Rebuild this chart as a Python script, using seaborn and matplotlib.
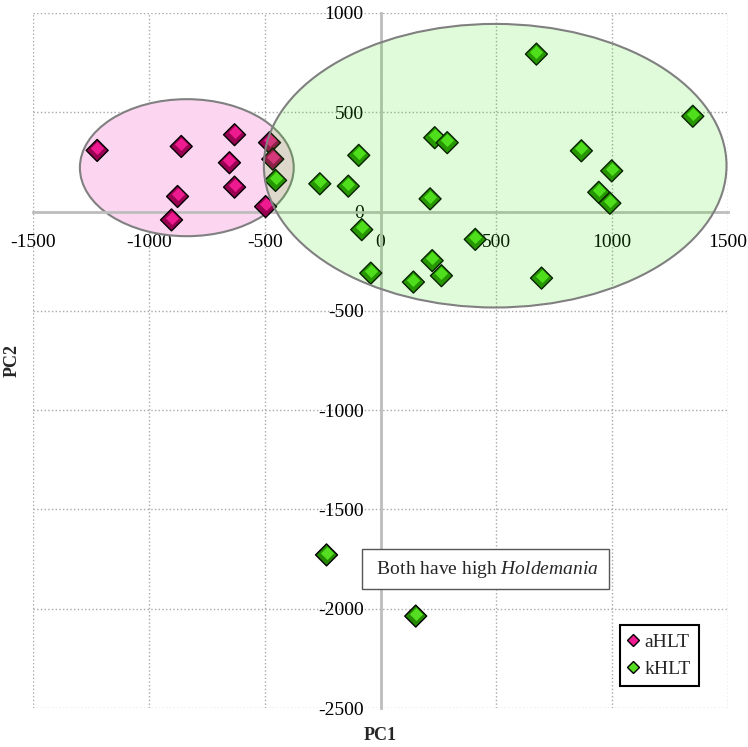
import matplotlib
matplotlib.use("Agg")
import matplotlib.pyplot as plt
from matplotlib.patches import Ellipse
from matplotlib.transforms import offset_copy
import pandas as pd
import seaborn as sns

# PCA scores
pc1_ahlt = [-1223, -860, -630, -652, -630, -876, -902, -479, -465, -496]
pc2_ahlt = [308, 328, 387, 246, 123, 76, -42, 347, 264, 25]
pc1_khlt = [-453, -262, -139, -94, 234, 288, 214, -81, 409, 223, 263,
            -42, 142, 673, 1348, 867, 998, 942, 990, 695, -233, 152]
pc2_khlt = [157, 140, 128, 283, 372, 347, 64, -91, -140, -247, -323,
            -310, -355, 793, 480, 306, 205, 97, 42, -335, -1729, -2037]
groups = ["aHLT", "kHLT"]
note = " Both have high $\\mathit{Holdemania}$ "

df = pd.DataFrame({
    "PC1": pc1_ahlt + pc1_khlt,
    "PC2": pc2_ahlt + pc2_khlt,
    "group": [groups[0]] * len(pc1_ahlt) + [groups[1]] * len(pc1_khlt),
})

sns.set_style("white")
plt.rcParams["font.family"] = ["Liberation Serif", "DejaVu Serif"]
plt.rcParams["mathtext.fontset"] = "custom"
plt.rcParams["mathtext.rm"] = "Liberation Serif"
plt.rcParams["mathtext.it"] = "Liberation Serif:italic"
plt.rcParams["axes.unicode_minus"] = False

fig = plt.figure(figsize=(7.48, 7.47), dpi=100)
ax = fig.add_axes([0.0441, 0.0522, 0.9292, 0.9304])

dark = {"aHLT": "#9a0052", "kHLT": "#248a00"}
light = {"aHLT": "#ee1a90", "kHLT": "#55dd22"}

# group ellipses
ax.add_patch(Ellipse((-836, 221), 923, 690, facecolor="#fcd5f0",
                     edgecolor="#808080", lw=1.5, zorder=1))

sns.scatterplot(data=df, x="PC1", y="PC2", hue="group", palette=dark,
                marker="D", s=125, edgecolor="black", linewidth=1.0,
                ax=ax, zorder=2, legend=False)
# lighter top half to fake the gradient fill
hl = offset_copy(ax.transData, fig=fig, x=0, y=1.7, units="points")
for g in groups:
    sub = df[df["group"] == g]
    ax.scatter(sub["PC1"], sub["PC2"], marker="D", s=45, color=light[g],
               linewidth=0, transform=hl, zorder=2.1)

ax.add_patch(Ellipse((495, 231), 1997, 1428,
                     facecolor=(50 / 255, 230 / 255, 0, 0.15),
                     edgecolor="#808080", lw=1.5, zorder=3))

ax.set_xlim(-1500, 1500)
ax.set_ylim(-2500, 1000)
ax.set_xticks(range(-1500, 1501, 500))
ax.set_yticks(range(-2500, 1001, 500))
ax.grid(True, color="#a8a8a8", linestyle=":", linewidth=1.0)
ax.set_axisbelow(True)

for s in ["top", "right"]:
    ax.spines[s].set_visible(False)
ax.spines["left"].set_position(("data", 0))
ax.spines["bottom"].set_position(("data", 0))
for s in ["left", "bottom"]:
    ax.spines[s].set_color("#bdbdbd")
    ax.spines[s].set_linewidth(2)
    ax.spines[s].set_zorder(1.5)
ax.tick_params(length=0, labelsize=14, colors="black")
ax.tick_params(axis="x", pad=16)
ax.tick_params(axis="y", pad=12)

ax.set_xlabel("PC1", fontsize=13, fontweight="bold")
ax.set_ylabel("PC2", fontsize=13, fontweight="bold")
ax.xaxis.set_label_coords(0.5, -0.028)
ax.yaxis.set_label_coords(-0.018, 0.5)

ax.text(453, -1800, note, fontsize=14, ha="center", va="center", zorder=4,
        bbox=dict(boxstyle="square,pad=0.5", facecolor="white",
                  edgecolor="#555555", linewidth=1))

handles = [plt.Line2D([], [], marker="D", linestyle="none", markersize=6,
                      markerfacecolor=light[g], markeredgecolor="black",
                      markeredgewidth=1) for g in groups]
leg = ax.legend(handles, groups, loc="lower right",
                bbox_to_anchor=(0.958, 0.032), borderaxespad=0,
                fontsize=14, fancybox=False, framealpha=1,
                handlelength=0.6, handletextpad=0.3, borderpad=0.4,
                labelspacing=0.5)
leg.get_frame().set_edgecolor("black")
leg.get_frame().set_linewidth(1.5)

fig.savefig("out.png", dpi=100)
